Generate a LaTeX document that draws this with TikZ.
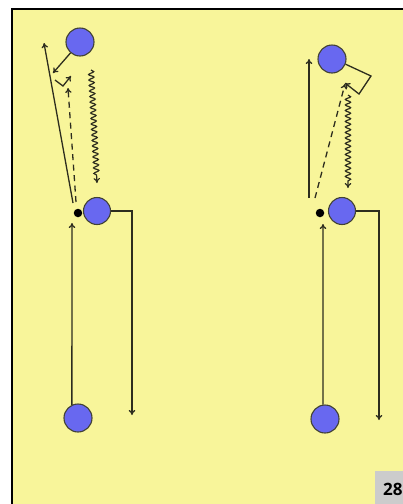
\documentclass[tikz,border=0pt]{standalone}
\usepackage{fontspec}
\setmainfont{Open Sans}
\usetikzlibrary{arrows.meta,decorations.pathmorphing}
\definecolor{bgyellow}{RGB}{248,245,154}
\definecolor{pblue}{RGB}{104,104,240}
\definecolor{ink}{RGB}{45,45,30}
\definecolor{tagbg}{RGB}{204,204,204}
\begin{document}
\begin{tikzpicture}[x=1pt,y=-1pt,
  player/.style={circle,fill=pblue,draw=ink!90,line width=1.1pt,minimum size=28pt,inner sep=0pt},
  ball/.style={circle,fill=black,minimum size=8.5pt,inner sep=0pt},
  mv/.style={draw=ink,line width=1.3pt,-{To[length=5pt,width=6.5pt]}},
  pass/.style={mv,dash pattern=on 6pt off 4.5pt},
  drib/.style={draw=ink,line width=1.2pt,-{To[length=5pt,width=6.5pt]},decorate,
    decoration={snake,amplitude=2.6pt,segment length=5.5pt,post length=6pt}}
]
\useasboundingbox (0,0) rectangle (403,504);
\fill[white] (0,0) rectangle (403,504);
\fill[bgyellow] (11,8) rectangle (403,504);
\draw[black,line width=1.5pt] (11.75,504) -- (11.75,8.75) -- (403,8.75);

% left group
\node[ball] (Ab) at (78,213) {};
\node[player] (A1) at (80,42) {};
\node[player,minimum size=27pt] (A2) at (97,211) {};
\node[player] (A3) at (78,418) {};

\coordinate (a3end) at (72,223);
\coordinate (a2end) at (132,415);
\coordinate (aRunS) at (73,203);
\coordinate (aRunE) at (44,43);
\coordinate (aPassS) at (76,202);
\coordinate (aPassE) at (68,88);
\coordinate (a1end) at (53,73);
\coordinate (aRb1) at (55,80);
\coordinate (aRb2) at (63,86);
\coordinate (aRb3) at (71,76);
\coordinate (aDrS) at (91,70);
\coordinate (aDrE) at (97,183);

\draw[mv] (A3.115) -- (a3end);
\draw[mv] (A2.east) -| (a2end);
\draw[mv] (aRunS) -- (aRunE);
\draw[pass] (aPassS) -- (aPassE);
\draw[mv] (A1.229) -- (a1end);
\draw[mv] (aRb1) -- (aRb2) -- (aRb3);
\draw[drib] (aDrS) -- (aDrE);

% right group
\node[ball] (Bb) at (320,213) {};
\node[player] (B1) at (332,59) {};
\node[player,minimum size=27pt] (B2) at (342,211) {};
\node[player] (B3) at (325,419) {};

\coordinate (b3end) at (323,224);
\coordinate (b2end) at (379,420);
\coordinate (bRunS) at (309,198);
\coordinate (bRunE) at (309,59);
\coordinate (bPassS) at (315,198);
\coordinate (bPassE) at (345,84);
\coordinate (bP1) at (371,76);
\coordinate (bP2) at (359,94);
\coordinate (bP3) at (345,83);
\coordinate (bDrS) at (348,95);
\coordinate (bDrE) at (348,188);

\draw[mv] (B3.98) -- (b3end);
\draw[mv] (B2.east) -| (b2end);
\draw[mv] (bRunS) -- (bRunE);
\draw[pass] (bPassS) -- (bPassE);
\draw[mv] (B1.-21) -- (bP1) -- (bP2) -- (bP3);
\draw[drib] (bDrS) -- (bDrE);

% tag
\fill[tagbg] (375,471) rectangle (403,504);
\node[anchor=base west,inner sep=0pt,font=\fontsize{17}{17}\selectfont\bfseries] (tag) at (383,495) {28};
\end{tikzpicture}
\end{document}
